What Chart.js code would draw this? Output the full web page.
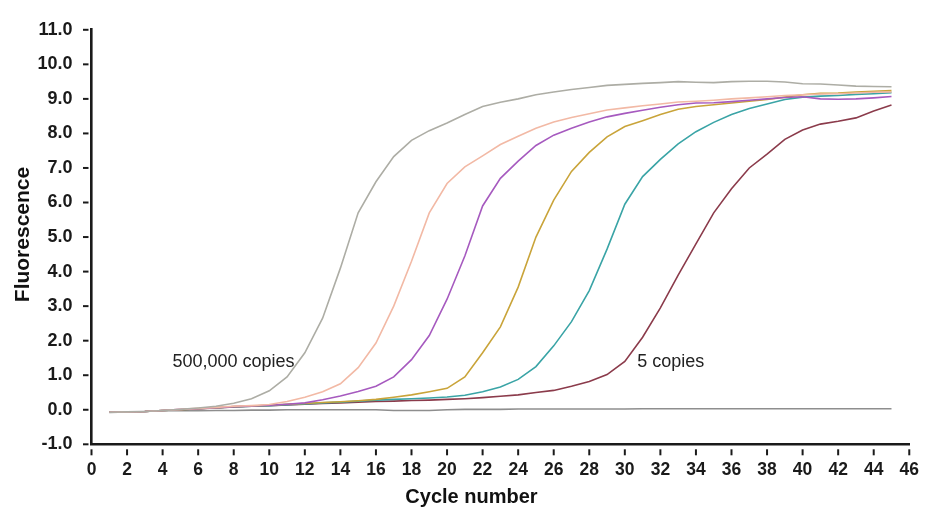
<!DOCTYPE html>
<html>
<head>
<meta charset="utf-8">
<script src="https://cdn.jsdelivr.net/npm/chart.js@4.4.1/dist/chart.umd.min.js"></script>
<style>
  html, body { margin: 0; padding: 0; background: #ffffff; }
  #wrap { width: 934px; height: 509px; position: relative; }
</style>
</head>
<body>
<div id="wrap"><canvas id="c" width="934" height="509"></canvas></div>
<script>
// ---- data ----
const cycles = [1,2,3,4,5,6,7,8,9,10,11,12,13,14,15,16,17,18,19,20,21,22,23,24,25,26,27,28,29,30,31,32,33,34,35,36,37,38,39,40,41,42,43,44,45];

const copies500000 = [-0.07,-0.06,-0.05,-0.02,0.01,0.05,0.10,0.19,0.32,0.55,0.95,1.65,2.65,4.10,5.70,6.60,7.33,7.80,8.08,8.30,8.55,8.78,8.90,9.00,9.12,9.20,9.27,9.33,9.39,9.42,9.45,9.47,9.50,9.48,9.47,9.50,9.51,9.51,9.49,9.44,9.43,9.40,9.37,9.36,9.35];
const copies50000  = [-0.07,-0.06,-0.05,-0.02,0.01,0.04,0.07,0.10,0.12,0.15,0.24,0.36,0.52,0.75,1.22,1.93,3.00,4.30,5.70,6.55,7.03,7.35,7.68,7.92,8.15,8.33,8.46,8.57,8.68,8.74,8.80,8.85,8.91,8.93,8.96,9.00,9.03,9.06,9.10,9.12,9.14,9.15,9.17,9.19,9.20];
const copies5000   = [-0.07,-0.06,-0.05,-0.02,0.01,0.03,0.06,0.09,0.11,0.13,0.16,0.20,0.29,0.40,0.53,0.68,0.95,1.45,2.15,3.20,4.45,5.90,6.70,7.20,7.65,7.95,8.15,8.33,8.48,8.58,8.67,8.76,8.83,8.88,8.89,8.92,8.96,9.00,9.04,9.06,9.00,8.99,9.00,9.03,9.07];
const copies500    = [-0.07,-0.06,-0.05,-0.02,0.00,0.03,0.06,0.09,0.11,0.13,0.16,0.18,0.21,0.23,0.26,0.30,0.36,0.43,0.52,0.62,0.95,1.65,2.40,3.55,5.00,6.07,6.90,7.45,7.90,8.20,8.37,8.55,8.70,8.78,8.83,8.88,8.93,8.98,9.05,9.12,9.16,9.17,9.20,9.22,9.24];
const copies50     = [-0.07,-0.06,-0.05,-0.02,0.00,0.03,0.06,0.08,0.10,0.12,0.15,0.17,0.20,0.22,0.25,0.28,0.30,0.32,0.34,0.37,0.42,0.52,0.66,0.88,1.25,1.85,2.55,3.45,4.65,5.95,6.75,7.25,7.70,8.05,8.32,8.55,8.72,8.85,8.98,9.05,9.08,9.10,9.13,9.15,9.18];
const copies5      = [-0.07,-0.06,-0.05,-0.02,0.00,0.03,0.05,0.08,0.10,0.12,0.14,0.16,0.18,0.20,0.22,0.24,0.25,0.27,0.28,0.30,0.32,0.35,0.39,0.43,0.50,0.56,0.68,0.82,1.02,1.40,2.10,2.95,3.90,4.80,5.70,6.40,7.00,7.40,7.83,8.10,8.27,8.35,8.45,8.65,8.82];
const noTemplate   = [-0.08,-0.06,-0.05,-0.03,-0.02,-0.03,-0.02,-0.02,-0.01,-0.01,0.00,0.00,0.00,0.00,0.00,0.00,-0.02,-0.02,-0.02,0.00,0.01,0.01,0.01,0.02,0.02,0.02,0.02,0.02,0.02,0.02,0.03,0.03,0.03,0.03,0.03,0.03,0.03,0.03,0.03,0.03,0.03,0.03,0.03,0.03,0.03];

const seriesNames  = ['500,000 copies','50,000 copies','5,000 copies','500 copies','50 copies','5 copies','no template'];
const seriesValues = [copies500000, copies50000, copies5000, copies500, copies50, copies5, noTemplate];
const seriesColors = ['#adada5','#f2b9a5','#a65abf','#c9a43a','#3aa4a6','#8b3b4b','#8e8e8e'];

const xTickMin = 0, xTickMax = 46, xTickStep = 2;
const yTickMin = -1, yTickMax = 11, yTickStep = 1;

const xTitle = 'Cycle number';
const yTitle = 'Fluorescence';
const annotations = [
  { text: '500,000 copies', x: 4.55, y: 1.23 },
  { text: '5 copies',       x: 30.7, y: 1.25 }
];

// ---- chart ----
const FONT = '"Liberation Sans", Arial, Helvetica, sans-serif';

const datasets = seriesValues.map((vals, i) => ({
  label: seriesNames[i],
  data: cycles.map((c, k) => ({ x: c, y: vals[k] })),
  borderColor: seriesColors[i],
  backgroundColor: seriesColors[i],
  borderWidth: 1.6,
  pointRadius: 0,
  tension: 0,
  fill: false
}));

const decorPlugin = {
  id: 'decor',
  afterDraw(chart) {
    const ctx = chart.ctx;
    const xs = chart.scales.x, ys = chart.scales.y;
    const area = chart.chartArea;
    ctx.save();
    // tick marks (detached from the axis line, as in the reference)
    ctx.strokeStyle = '#1a1a1a';
    ctx.lineWidth = 2;
    ys.ticks.forEach(t => {
      const y = ys.getPixelForValue(t.value);
      ctx.beginPath(); ctx.moveTo(area.left - 8.5, y); ctx.lineTo(area.left - 3, y); ctx.stroke();
    });
    xs.ticks.forEach(t => {
      const x = xs.getPixelForValue(t.value);
      ctx.beginPath(); ctx.moveTo(x, area.bottom + 5); ctx.lineTo(x, area.bottom + 11); ctx.stroke();
    });
    // annotations
    ctx.fillStyle = '#222';
    ctx.font = '18px ' + FONT;
    ctx.textAlign = 'left';
    ctx.textBaseline = 'alphabetic';
    annotations.forEach(a => {
      ctx.fillText(a.text, xs.getPixelForValue(a.x), ys.getPixelForValue(a.y));
    });
    // axis titles
    ctx.fillStyle = '#111';
    ctx.font = 'bold 20px ' + FONT;
    ctx.textAlign = 'center';
    ctx.textBaseline = 'middle';
    ctx.fillText(xTitle, 471.5, 497);
    ctx.save();
    ctx.translate(23, 234.5);
    ctx.rotate(-Math.PI / 2);
    ctx.font = 'bold 21px ' + FONT;
    ctx.fillText(yTitle, 0, 0);
    ctx.restore();
    ctx.restore();
  }
};

new Chart(document.getElementById('c'), {
  type: 'line',
  data: { datasets },
  plugins: [decorPlugin],
  options: {
    responsive: false,
    animation: false,
    devicePixelRatio: 1,
    layout: { padding: { top: 18.3, right: 24, left: 0, bottom: 0 } },
    plugins: { legend: { display: false }, tooltip: { enabled: false } },
    scales: {
      x: {
        type: 'linear',
        min: xTickMin, max: xTickMax,
        afterFit(s) { s.height = 64.7; },
        grid: { display: false, drawTicks: false },
        border: { display: true, color: '#1a1a1a', width: 2.6 },
        ticks: {
          stepSize: xTickStep,
          autoSkip: false,
          maxRotation: 0,
          padding: 15,
          color: '#1a1a1a',
          font: { family: FONT, size: 17.5, weight: 'bold' },
          callback: v => String(v)
        }
      },
      y: {
        type: 'linear',
        min: yTickMin, max: yTickMax,
        afterFit(s) { s.width = 91.5; },
        grid: { display: false, drawTicks: false },
        border: { display: true, color: '#1a1a1a', width: 2.6 },
        ticks: {
          stepSize: yTickStep,
          autoSkip: false,
          padding: 19,
          color: '#1a1a1a',
          font: { family: FONT, size: 18, weight: 'bold' },
          callback: v => Number(v).toFixed(1)
        }
      }
    }
  }
});
</script>
</body>
</html>
